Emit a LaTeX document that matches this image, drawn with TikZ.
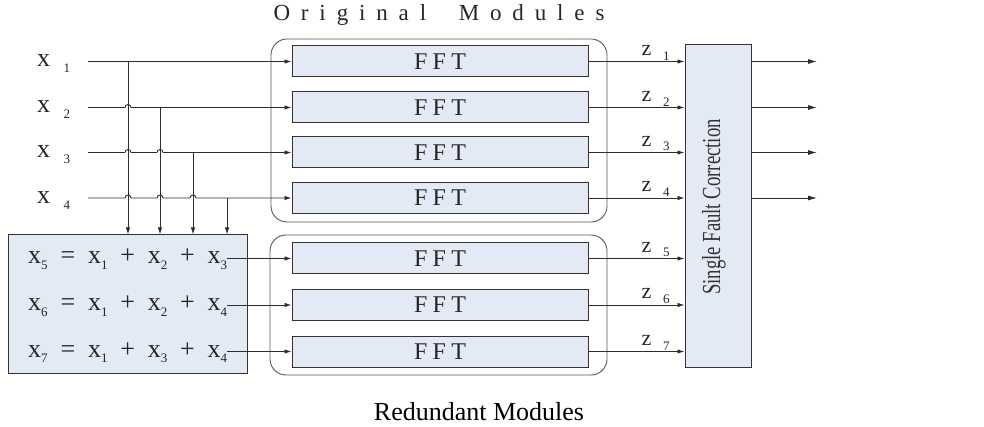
\documentclass[tikz,border=0pt]{standalone}
\usepackage{fontspec}
\usepackage{graphicx}
\setmainfont{Liberation Serif}
\usetikzlibrary{arrows.meta}
\definecolor{boxfill}{RGB}{228,234,245}
\definecolor{wire}{RGB}{45,45,45}
% spread the letters of #2 evenly over a box of width #1
\newcommand{\spreadtext}[2]{\makebox[#1][s]{#2}}
% small lowered index
\newcommand{\idx}[1]{\raisebox{-0.22em}{\fontsize{13}{13}\selectfont #1}}

\begin{document}
\begin{tikzpicture}[x=1pt,y=-1pt,
  wireline/.style={draw=wire,line width=0.9pt},
  wirearrow/.style={wireline,-{Latex[length=7pt,width=4.5pt]}},
  outarrow/.style={wireline,-{Latex[length=9pt,width=5pt]}},
  fftbox/.style={draw=black!80,line width=1pt,fill=boxfill,minimum width=296pt,
    minimum height=31pt,inner sep=0pt,text=black!85,font=\fontsize{24}{24}\selectfont},
  plainbox/.style={draw=black!80,line width=1pt,fill=boxfill,inner sep=0pt},
  groupbox/.style={draw=black!65,line width=0.9pt,rounded corners=16pt,inner sep=0pt},
  lbl/.style={inner sep=0pt,text=black!85,font=\fontsize{26}{26}\selectfont},
  zlbl/.style={inner sep=0pt,text=black!85,font=\fontsize{22}{22}\selectfont}]

\useasboundingbox (0,0) rectangle (984,427);

% module groups
\node[groupbox,minimum width=336pt,minimum height=183pt] (orig) at (439,130.5) {};
\node[groupbox,minimum width=337pt,minimum height=140pt] (red) at (438.5,305) {};
\node[inner sep=0pt,text=black!85,font=\fontsize{23}{23}\selectfont] (title) at (439,15)
  {\spreadtext{331pt}{O\hfil r\hfil i\hfil g\hfil i\hfil n\hfil a\hfil l\hfil\hfil\hfil M\hfil o\hfil d\hfil u\hfil l\hfil e\hfil s}};

% FFT modules
\foreach \i/\y in {1/61.5,2/107.5,3/152.5,4/198,5/258.5,6/305,7/351.5}
  \node[fftbox] (fft\i) at (440,\y) {\spreadtext{52pt}{F\hfil F\hfil T}};

% inputs
\foreach \i/\y in {1/61.5,2/107.5,3/152.5,4/198}{
  \node[lbl,anchor=base west] (x\i) at (37,\y+5.5) {\spreadtext{33pt}{x\hfil\idx{\i}}};
  \coordinate (s\i) at (88,\y);
}
\coordinate (t1) at (128,61.5);
\coordinate (t2) at (160,107.5);
\coordinate (t3) at (193,152.5);
\coordinate (t4) at (227,198);

\draw[wirearrow] (s1) -- (fft1.west);
\draw[wirearrow] (s2) -- (125,107.5) arc(180:360:3) -- (fft2.west);
\draw[wirearrow] (s3) -- (125,152.5) arc(180:360:3) -- (157,152.5) arc(180:360:3) -- (fft3.west);
\draw[wirearrow] (s4) -- (125,198) arc(180:360:3) -- (157,198) arc(180:360:3)
  -- (190,198) arc(180:360:3) -- (fft4.west);

% encoder
\node[plainbox,minimum width=239pt,minimum height=138pt] (enc) at (127.5,304) {};
\foreach \i in {1,...,4}
  \draw[wirearrow] (t\i) -- (t\i |- enc.north);

\node[lbl,anchor=base west] (e5) at (28,264)
  {\spreadtext{199pt}{x\idx{5}\hfil=\hfil x\idx{1}\hfil+\hfil x\idx{2}\hfil+\hfil x\idx{3}}};
\node[lbl,anchor=base west] (e6) at (28,310.5)
  {\spreadtext{199pt}{x\idx{6}\hfil=\hfil x\idx{1}\hfil+\hfil x\idx{2}\hfil+\hfil x\idx{4}}};
\node[lbl,anchor=base west] (e7) at (28,357)
  {\spreadtext{199pt}{x\idx{7}\hfil=\hfil x\idx{1}\hfil+\hfil x\idx{3}\hfil+\hfil x\idx{4}}};
\draw[wirearrow] (e5.east |- fft5.west) -- (fft5.west);
\draw[wirearrow] (e6.east |- fft6.west) -- (fft6.west);
\draw[wirearrow] (e7.east |- fft7.west) -- (fft7.west);

% single fault correction
\node[plainbox,minimum width=66pt,minimum height=322pt] (sfc) at (718,206) {};
\node[rotate=90,inner sep=0pt,text=black!80,font=\fontsize{26}{26}\selectfont] (sfct) at (714,207)
  {\scalebox{0.72}[1]{Single Fault Correction}};

\foreach \i in {1,...,7}
  \draw[wirearrow] (fft\i.east) -- node[zlbl,pos=0.7,above=1pt] (z\i)
    {\spreadtext{28pt}{z\hfil\idx{\i}}} (fft\i.east -| sfc.west);

\foreach \i/\y in {1/61.5,2/107.5,3/152.5,4/198}{
  \coordinate (o\i) at (817,\y);
  \draw[outarrow] (sfc.east |- fft\i.east) -- (o\i);
}

\node[inner sep=0pt,font=\fontsize{26}{26}\selectfont] (cap) at (479,412) {Redundant Modules};
\end{tikzpicture}
\end{document}
